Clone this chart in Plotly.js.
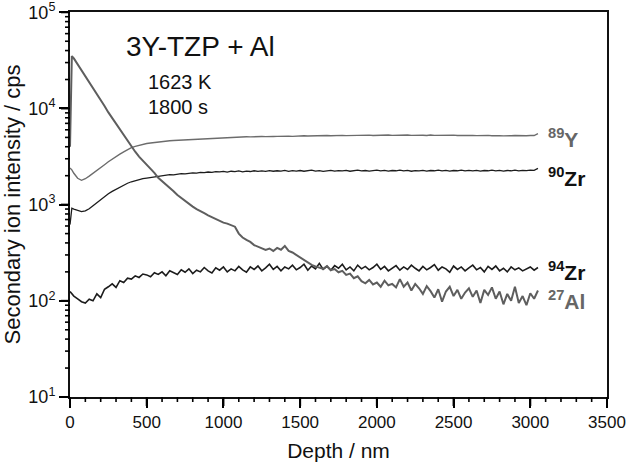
<!DOCTYPE html>
<html>
<head>
<meta charset="utf-8">
<script src="https://cdn.plot.ly/plotly-3.0.1.min.js"></script>
<style>html,body{margin:0;padding:0;background:#fff;}#chart{width:626px;height:462px;}</style>
</head>
<body>
<div id="chart"></div>
<script>
// Depth (nm)
const depth = [0,12,25,50,75,100,125,150,175,200,225,250,275,300,325,350,375,400,425,450,475,500,525,550,575,600,625,650,675,700,725,750,775,800,825,850,875,900,925,950,975,1000,1025,1050,1075,1100,1125,1150,1175,1200,1225,1250,1275,1300,1325,1350,1375,1400,1425,1450,1475,1500,1525,1550,1575,1600,1625,1650,1675,1700,1725,1750,1775,1800,1825,1850,1875,1900,1925,1950,1975,2000,2025,2050,2075,2100,2125,2150,2175,2200,2225,2250,2275,2300,2325,2350,2375,2400,2425,2450,2475,2500,2525,2550,2575,2600,2625,2650,2675,2700,2725,2750,2775,2800,2825,2850,2875,2900,2925,2950,2975,3000,3025,3050];

// 89Y intensity (cps)
const y89 = [2400,2300,2120,1880,1790,1860,1980,2110,2260,2420,2600,2790,2980,3170,3350,3540,3740,3920,4040,4150,4240,4320,4380,4440,4480,4530,4570,4610,4650,4670,4720,4740,4780,4800,4850,4830,4880,4900,4920,4960,4940,5000,5020,4990,5040,5060,5030,5080,5060,5100,5070,5120,5090,5140,5110,5130,5170,5140,5160,5130,5180,5150,5200,5170,5190,5220,5180,5210,5240,5200,5230,5190,5250,5220,5240,5210,5260,5230,5250,5280,5240,5270,5230,5260,5290,5250,5280,5240,5270,5300,5250,5280,5240,5270,5230,5290,5250,5270,5220,5260,5240,5280,5230,5250,5210,5270,5240,5220,5260,5230,5250,5200,5240,5220,5190,5240,5210,5230,5190,5220,5200,5240,5230,5480];

// 90Zr intensity (cps)
const zr90 = [620,920,900,870,845,860,905,975,1050,1130,1215,1300,1375,1450,1530,1600,1670,1730,1780,1820,1860,1890,1920,1950,1970,2000,2015,2050,2035,2080,2100,2085,2120,2140,2125,2160,2150,2185,2165,2200,2190,2215,2180,2225,2200,2240,2195,2235,2210,2250,2215,2245,2220,2260,2225,2250,2230,2270,2220,2255,2235,2265,2225,2250,2280,2235,2260,2220,2255,2275,2230,2260,2240,2270,2225,2255,2280,2240,2265,2230,2260,2285,2245,2270,2235,2265,2250,2280,2240,2270,2225,2260,2245,2275,2235,2265,2250,2280,2240,2270,2230,2265,2250,2285,2240,2270,2245,2275,2235,2265,2250,2285,2245,2270,2235,2265,2250,2280,2240,2270,2255,2290,2270,2380];

// 94Zr intensity (cps)
const zr94 = [125,118,112,105,98,95,104,100,118,108,132,140,150,138,162,155,172,168,182,175,190,186,178,196,188,200,182,205,195,188,210,198,215,192,208,200,222,205,195,220,208,225,200,215,205,228,210,198,225,212,230,205,220,240,212,228,205,225,215,235,210,222,240,208,230,215,245,212,228,208,232,218,240,210,225,205,235,215,228,210,222,240,212,228,205,220,232,208,225,212,235,218,205,228,210,222,238,208,225,215,198,230,212,225,205,220,235,210,222,200,228,212,230,205,218,200,225,210,220,205,215,225,208,222];

// 27Al intensity (cps)
const al27 = [4000,35000,33100,28800,25100,21900,19000,16200,14100,12200,10600,9100,7950,6900,6000,5250,4570,3980,3550,3160,2880,2630,2340,2140,1900,1760,1620,1480,1380,1260,1175,1095,1010,955,900,850,815,775,740,710,675,650,635,610,590,500,455,430,410,380,365,355,338,350,330,355,340,372,330,318,300,282,262,252,236,228,222,215,230,208,214,198,205,186,192,172,180,160,152,165,148,155,140,162,145,150,138,168,140,155,128,150,135,118,142,126,108,132,98,125,140,112,130,105,122,135,110,128,95,130,115,138,105,125,92,118,100,140,95,112,90,120,105,128];

const seriesNames = ['89Y','90Zr','94Zr','27Al'];
const labelText = ['<b><sup>89</sup>Y</b>','<b><sup>90</sup>Zr</b>','<b><sup>94</sup>Zr</b>','<b><sup>27</sup>Al</b>'];
const labelY = [4900, 1950, 205, 102];
const labelX = 3100;

// Axis ticks
const xRange = [0, 3500];
const yRangeLog = [1, 5.003];
const xMajor = [0,500,1000,1500,2000,2500,3000,3500];
const xMinor = [100,200,300,400,600,700,800,900,1100,1200,1300,1400,1600,1700,1800,1900,2100,2200,2300,2400,2600,2700,2800,2900,3100,3200,3300,3400];
const yMajor = [10,100,1000,10000,100000];
const yMajorText = ['10<sup>1</sup>','10<sup>2</sup>','10<sup>3</sup>','10<sup>4</sup>','10<sup>5</sup>'];
const yMinor = [20,30,40,50,60,70,80,90,200,300,400,500,600,700,800,900,2000,3000,4000,5000,6000,7000,8000,9000,20000,30000,40000,50000,60000,70000,80000,90000];

const font = '"Liberation Sans", Arial, sans-serif';

const traces = [
  {x: depth, y: y89, name: seriesNames[0], mode: 'lines', line: {color: '#6c6c6c', width: 1.4}},
  {x: depth, y: zr90, name: seriesNames[1], mode: 'lines', line: {color: '#1c1c1c', width: 1.3}},
  {x: depth, y: zr94, name: seriesNames[2], mode: 'lines', line: {color: '#1c1c1c', width: 1.6}},
  {x: depth, y: al27, name: seriesNames[3], mode: 'lines', line: {color: '#5e5e5e', width: 2}}
];

const labelColors = ['#666666','#111111','#111111','#666666'];
const annotations = labelText.map((t, i) => ({
  x: labelX, y: Math.log10(labelY[i]), xref: 'x', yref: 'y',
  text: t, showarrow: false, xanchor: 'left', yanchor: 'middle',
  font: {family: font, size: 21, color: labelColors[i]}
}));
annotations.push(
  {x: 0.1, y: 0.91, xref: 'paper', yref: 'paper', text: '3Y-TZP + Al', showarrow: false,
   xanchor: 'left', yanchor: 'middle', font: {family: font, size: 28, color: '#111'}},
  {x: 0.142, y: 0.818, xref: 'paper', yref: 'paper', text: '1623 K', showarrow: false,
   xanchor: 'left', yanchor: 'middle', font: {family: font, size: 20, color: '#111'}},
  {x: 0.142, y: 0.752, xref: 'paper', yref: 'paper', text: '1800 s', showarrow: false,
   xanchor: 'left', yanchor: 'middle', font: {family: font, size: 20, color: '#111'}}
);

// Tick marks as paper shapes placed on the axis ranges
const plotW = 626 - 70 - 19, plotH = 462 - 12 - 65;
const shapes = [];
const xFrac = v => (v - xRange[0]) / (xRange[1] - xRange[0]);
const yFrac = v => (Math.log10(v) - yRangeLog[0]) / (yRangeLog[1] - yRangeLog[0]);
const addX = (v, len, w) => shapes.push({type: 'line', xref: 'paper', yref: 'paper', x0: xFrac(v), x1: xFrac(v), y0: 0, y1: -len / plotH, line: {color: '#000', width: w}});
const addY = (v, len, w) => shapes.push({type: 'line', xref: 'paper', yref: 'paper', x0: 0, x1: -len / plotW, y0: yFrac(v), y1: yFrac(v), line: {color: '#000', width: w}});
xMajor.forEach(v => addX(v, 9, 2));
xMinor.forEach(v => addX(v, 5, 1.6));
yMajor.forEach(v => addY(v, 9, 2));
yMinor.forEach(v => addY(v, 5, 1.6));

const layout = {
  width: 626, height: 462,
  margin: {l: 70, r: 19, t: 12, b: 65},
  paper_bgcolor: '#fff', plot_bgcolor: '#fff',
  showlegend: false,
  font: {family: font, color: '#111'},
  xaxis: {
    range: xRange, tickmode: 'array', tickvals: xMajor,
    ticks: 'outside', ticklen: 9, tickwidth: 2, tickcolor: '#000',
    showline: true, linewidth: 2, linecolor: '#111', mirror: true,
    showgrid: false, zeroline: false,
    tickfont: {family: font, size: 17, color: '#111'},
    title: {text: 'Depth / nm', font: {family: font, size: 21, color: '#111'}, standoff: 12},
    automargin: false
  },
  yaxis: {
    type: 'log', range: yRangeLog, tickmode: 'array', tickvals: yMajor, ticktext: yMajorText,
    ticks: 'outside', ticklen: 9, tickwidth: 2, tickcolor: '#000',
    showline: true, linewidth: 2, linecolor: '#111', mirror: true,
    showgrid: false, zeroline: false,
    tickfont: {family: font, size: 18, color: '#111'},
    title: {text: 'Secondary ion intensity / cps', font: {family: font, size: 22, color: '#111'}, standoff: 4},
    automargin: false
  },
  shapes: shapes,
  annotations: annotations
};

Plotly.newPlot('chart', traces, layout, {displayModeBar: false});
</script>
</body>
</html>
